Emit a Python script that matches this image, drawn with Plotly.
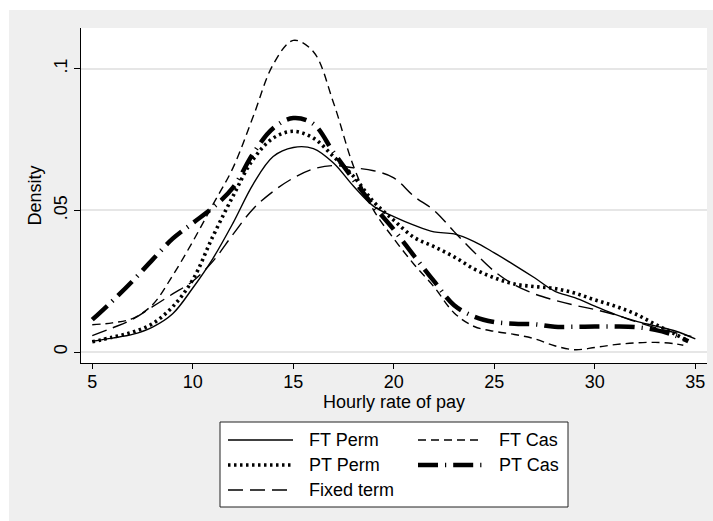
import plotly.graph_objects as go

# ---- data ----
x_vals = [5, 6, 7, 8, 9, 10, 11, 12, 13, 14, 15, 16, 17, 18, 19, 20,
          21, 22, 23, 24, 25, 26, 27, 28, 29, 30, 31, 32, 33, 34]

ft_perm = [0.0038, 0.0049, 0.0062, 0.0088, 0.0135, 0.0226, 0.0330, 0.0455, 0.0592, 0.0690,
           0.0722, 0.0718, 0.0667, 0.0585, 0.0514, 0.0478, 0.0448, 0.0424, 0.0417, 0.0390,
           0.0350, 0.0307, 0.0262, 0.0215, 0.0192, 0.0162, 0.0133, 0.0110, 0.0092, 0.0074]
ft_perm_end = (35.0, 0.0046)

ft_cas = [0.0096, 0.0103, 0.0118, 0.0167, 0.0270, 0.0390, 0.0520, 0.0650, 0.0830, 0.1015,
          0.1100, 0.1060, 0.0880, 0.0655, 0.0500, 0.0400, 0.0310, 0.0230, 0.0138, 0.0090,
          0.0073, 0.0062, 0.0047, 0.0022, 0.0008, 0.0016, 0.0026, 0.0032, 0.0034, 0.0029]
ft_cas_end = (34.4, 0.0024)

pt_perm = [0.0036, 0.0052, 0.0070, 0.0100, 0.0160, 0.0255, 0.0408, 0.0550, 0.0680, 0.0755,
           0.0779, 0.0755, 0.0690, 0.0620, 0.0530, 0.0465, 0.0405, 0.0372, 0.0336, 0.0293,
           0.0262, 0.0240, 0.0231, 0.0224, 0.0208, 0.0184, 0.0162, 0.0135, 0.0098, 0.0063]
pt_perm_end = (34.65, 0.0038)

pt_cas = [0.0114, 0.0180, 0.0250, 0.0326, 0.0400, 0.0455, 0.0510, 0.0580, 0.0700, 0.0790,
          0.0826, 0.0805, 0.0705, 0.0608, 0.0515, 0.0432, 0.0340, 0.0250, 0.0165, 0.0125,
          0.0106, 0.0100, 0.0098, 0.0089, 0.0089, 0.0090, 0.0090, 0.0088, 0.0078, 0.0058]
pt_cas_end = (34.65, 0.0038)

fixed_term = [0.0058, 0.0085, 0.0115, 0.0160, 0.0205, 0.0250, 0.0320, 0.0415, 0.0505, 0.0567,
              0.0614, 0.0646, 0.0658, 0.0650, 0.0640, 0.0615, 0.0550, 0.0500, 0.0425, 0.0352,
              0.0285, 0.0237, 0.0205, 0.0183, 0.0165, 0.0150, 0.0132, 0.0108, 0.0086, 0.0068]
fixed_term_end = (34.8, 0.0055)

x_ticks = [5, 10, 15, 20, 25, 30, 35]
y_ticks = [0, 0.05, 0.1]
y_ticklabels = ["0", ".05", ".1"]

FONT = "Liberation Sans, Arial, Helvetica, sans-serif"

series = [
    ("FT Perm", ft_perm, ft_perm_end, dict(color="black", width=1.4, dash="solid")),
    ("FT Cas", ft_cas, ft_cas_end, dict(color="black", width=1.4, dash="8px,5px")),
    ("PT Perm", pt_perm, pt_perm_end, dict(color="black", width=3.6, dash="2.5px,3.5px")),
    ("PT Cas", pt_cas, pt_cas_end, dict(color="black", width=4.5, dash="20px,7px,1.2px,7px")),
    ("Fixed term", fixed_term, fixed_term_end, dict(color="black", width=1.4, dash="15px,7px")),
]

fig = go.Figure()
for name, ys, end, line in series:
    fig.add_trace(go.Scatter(
        x=x_vals + [end[0]], y=ys + [end[1]], mode="lines", name=name,
        line=dict(shape="spline", smoothing=1.0, **line), showlegend=False,
    ))

# ---- layout geometry (pixels) ----
L, R, T, B = 81, 6, 28, 158
W, H = 713, 521
pw, ph = W - L - R, H - T - B
def px_x(p):
    return (p - L) / pw
def px_y(p):
    return (H - B - p) / ph

# background panels (outer grey graph region, white plot region)
fig.add_shape(type="rect", xref="paper", yref="paper", layer="below",
              x0=px_x(9), x1=px_x(W + 2), y0=px_y(H + 2), y1=px_y(10),
              fillcolor="#efefef", line=dict(width=0))
fig.add_shape(type="rect", xref="paper", yref="paper", layer="below",
              x0=0, x1=1, y0=0, y1=1, fillcolor="white", line=dict(width=0))

# ---- legend box (two columns, Stata style) ----
fig.add_shape(type="rect", xref="paper", yref="paper",
              x0=px_x(220), x1=px_x(568), y0=px_y(507), y1=px_y(422),
              fillcolor="white", line=dict(color="#222222", width=1))
legend_slots = [(228, 440), (418, 440), (228, 465), (418, 465), (228, 490)]
for (name, _, _, line), (lx, ly) in zip(series, legend_slots):
    fig.add_shape(type="line", xref="paper", yref="paper",
                  x0=px_x(lx), x1=px_x(lx + 65), y0=px_y(ly), y1=px_y(ly),
                  line=dict(color=line["color"], width=line["width"], dash=line["dash"]))
    fig.add_annotation(xref="paper", yref="paper", x=px_x(lx + 79), y=px_y(ly),
                       xanchor="left", yanchor="middle", showarrow=False, text=name,
                       font=dict(family=FONT, size=18, color="black"))

fig.update_layout(
    width=W, height=H,
    margin=dict(l=L, r=R, t=T, b=B, pad=0),
    paper_bgcolor="white", plot_bgcolor="white",
    font=dict(family=FONT, size=18, color="black"),
    showlegend=False,
    xaxis=dict(
        range=[4.44, 35.58], tickvals=x_ticks, ticks="outside", ticklen=5,
        tickcolor="black", showline=True, linecolor="black", linewidth=1,
        showgrid=False, zeroline=False, ticklabelstandoff=-3,
        title=dict(text="Hourly rate of pay", standoff=4, font=dict(size=18)),
        tickfont=dict(size=18),
    ),
    yaxis=dict(
        range=[-0.00388, 0.11437], tickvals=y_ticks, ticktext=y_ticklabels,
        tickangle=-90, ticks="outside", ticklen=6, tickcolor="black",
        showline=True, linecolor="black", linewidth=1,
        showgrid=True, gridcolor="#e6e6e6", gridwidth=2, zeroline=False,
        title=dict(text="Density", standoff=4, font=dict(size=18)),
        tickfont=dict(size=18),
    ),
)

fig.write_html("out.html", config={"displayModeBar": False},
               post_script="document.body.style.margin='0';document.body.style.overflow='hidden';")
